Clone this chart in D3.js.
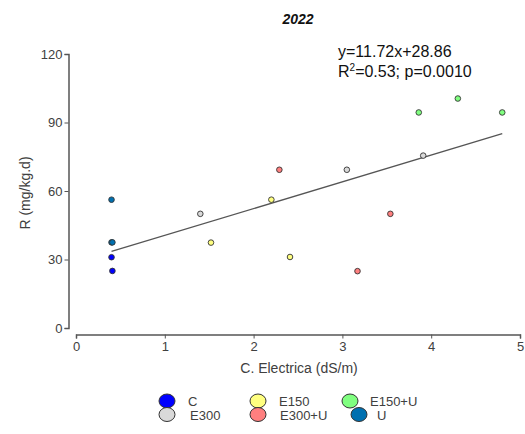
<!DOCTYPE html>
<html>
<head>
<meta charset="utf-8">
<script src="https://cdn.jsdelivr.net/npm/d3@7"></script>
<style>
  html, body { margin: 0; padding: 0; background: #fff; }
  svg { display: block; font-family: Arial, "Liberation Sans", sans-serif; }
</style>
</head>
<body>
<svg id="chart" width="525" height="434"></svg>
<script>
const groups = ["C", "E300", "E150", "E300+U", "E150+U", "U"];
const groupColors = ["#0000FF", "#D9D9D9", "#FFFF80", "#FF7F7F", "#80FF80", "#0070B0"];

const pointGroup = ["C","C","U","U","U","E300","E300","E300","E150","E150","E150","E300+U","E300+U","E300+U","E150+U","E150+U","E150+U"];
const pointX =     [0.40,0.41,0.40,0.40,0.41,1.40,3.05,3.91,1.52,2.20,2.41,2.29,3.54,3.17,3.86,4.30,4.80];
const pointY =     [31.0,25.0,56.2,37.5,37.5,50.0,69.3,75.5,37.4,56.2,31.1,69.3,50.0,24.9,94.4,100.5,94.4];

const fitSlope = 11.72, fitIntercept = 28.86;
const xTicks = [0,1,2,3,4,5];
const yTicks = [0,30,60,90,120];
const titleText = "2022";
const xLabel = "C. Electrica (dS/m)";
const yLabel = "R (mg/kg.d)";
const eqLine1 = "y=11.72x+28.86";

const svg = d3.select("#chart");
const x = d3.scaleLinear().domain([0,5]).range([76, 520]);
const y = d3.scaleLinear().domain([0,120]).range([328, 54]);
const color = d3.scaleOrdinal().domain(groups).range(groupColors);
const axisCol = "#404040";

// Y axis (offset left)
const yAxis = svg.append("g").attr("transform", "translate(68.5,0)")
  .call(d3.axisLeft(y).tickValues(yTicks).tickFormat(d3.format("d")).tickSize(4).tickPadding(2));
// X axis (offset down)
const xAxis = svg.append("g").attr("transform", "translate(0,334.5)")
  .call(d3.axisBottom(x).tickValues(xTicks).tickFormat(d3.format("d")).tickSize(4).tickPadding(3));
[yAxis, xAxis].forEach(a => {
  a.select(".domain").attr("stroke", "#555").attr("stroke-width", 1.5);
  a.selectAll(".tick line").attr("stroke", "#555");
  a.selectAll("text").attr("fill", axisCol).attr("font-size", 13)
    .attr("font-family", "Arial, 'Liberation Sans', sans-serif");
});

// Title
svg.append("text").attr("x", 298).attr("y", 24).attr("text-anchor", "middle")
  .attr("font-size", 14).attr("font-weight", "bold").attr("font-style", "italic")
  .attr("fill", "#111").text(titleText);

// Axis labels
svg.append("text").attr("x", 299).attr("y", 373).attr("text-anchor", "middle")
  .attr("font-size", 14).attr("fill", axisCol).text(xLabel);
svg.append("text").attr("transform", "translate(30,193) rotate(-90)")
  .attr("text-anchor", "middle").attr("font-size", 14).attr("fill", axisCol).text(yLabel);

// Regression line
const xMin = d3.min(pointX), xMax = d3.max(pointX);
const line = d3.line().x(d => x(d)).y(d => y(fitSlope*d + fitIntercept));
svg.append("path").datum([xMin, xMax]).attr("d", line)
  .attr("fill", "none").attr("stroke", "#555").attr("stroke-width", 1.3);

// Points
svg.append("g").selectAll("circle").data(pointX.map((v,i)=>({x:v,y:pointY[i],g:pointGroup[i]})))
  .join("circle")
  .attr("cx", d => x(d.x)).attr("cy", d => y(d.y)).attr("r", 2.8)
  .attr("fill", d => color(d.g)).attr("stroke", "#333").attr("stroke-width", 0.9);

// Equation text
svg.append("text").attr("x", 338).attr("y", 57).attr("font-size", 16).attr("fill", "#111").text(eqLine1);
const eq2 = svg.append("text").attr("x", 338).attr("y", 77).attr("font-size", 16).attr("fill", "#111");
eq2.append("tspan").text("R");
eq2.append("tspan").attr("dy", -6).attr("font-size", 10).text("2");
eq2.append("tspan").attr("dy", 6).text("=0.53; p=0.0010");

// Legend
const legendPos = [
  {cx:167, cy:401, tx:188}, {cx:167, cy:414.5, tx:190},
  {cx:258, cy:401, tx:279}, {cx:258, cy:414.5, tx:280},
  {cx:350, cy:401, tx:370}, {cx:359, cy:414.5, tx:377}
];
const order = ["C","E300","E150","E300+U","E150+U","U"];
const lg = svg.append("g");
order.forEach((g,i) => {
  const p = legendPos[i];
  lg.append("ellipse").attr("cx", p.cx).attr("cy", p.cy).attr("rx", 8).attr("ry", 7)
    .attr("fill", color(g)).attr("stroke", "#333").attr("stroke-width", 1);
  lg.append("text").attr("x", p.tx).attr("y", p.cy + 5).attr("font-size", 13)
    .attr("fill", axisCol).text(g);
});
</script>
</body>
</html>
